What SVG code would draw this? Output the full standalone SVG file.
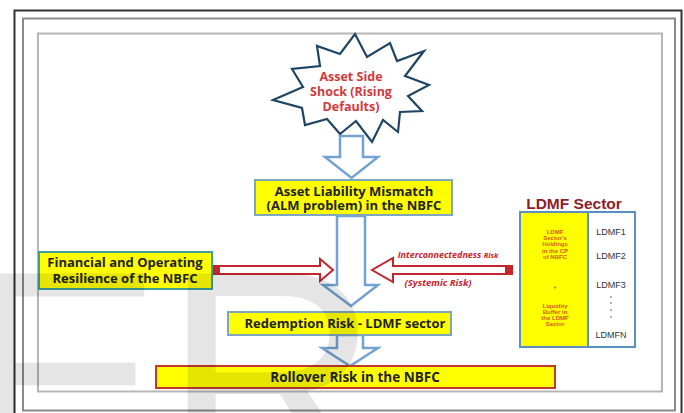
<svg xmlns="http://www.w3.org/2000/svg" width="684" height="413" viewBox="0 0 684 413">
<style>
.frame{fill:none}
.box{fill:#ffff00;stroke-width:2}
.lbl{font-family:"Open Sans","Liberation Sans",sans-serif;font-weight:bold;fill:#222;text-anchor:middle}
.blue{fill:#fff;stroke:#72a2d2;stroke-width:2.5;stroke-linejoin:miter}
.red{fill:#fff;stroke:#c4262e;stroke-width:2}
.redt{font-family:"Open Sans","Liberation Sans",sans-serif;font-weight:bold;font-style:italic;fill:#c4262e;text-anchor:middle}
.small{font-family:"Liberation Sans",sans-serif;font-weight:bold;fill:#d25a1e;text-anchor:middle;font-size:6px}
.ldmf{font-family:"Liberation Sans",sans-serif;fill:#333;text-anchor:middle;font-size:9px}
</style>
<rect width="684" height="413" fill="#fff"/>
<g id="frames">
<rect class="frame" x="14.5" y="10.5" width="667" height="410" stroke="#333" stroke-width="2"/>
<rect class="frame" x="23" y="18.5" width="652" height="392" stroke="#8a8a8a" stroke-width="2"/>
<rect class="frame" x="38" y="33.5" width="624" height="358" stroke="#b5b5b5" stroke-width="2"/>
</g>
<g id="connectors">
<path class="blue" d="M340,136 H363 V157 H378 L351.5,178 L325,157 H340 Z"/>
<path class="blue" d="M337,216 H365 V285 H378 L351,306 L323,285 H337 Z"/>
<path class="blue" d="M337,335 H363 V348 H378 L350,366 L322,348 H337 Z"/>
<path class="red" d="M213,266 H320 V259 L333,270 L320,281 V274 H213 Z"/>
<rect x="213" y="266" width="7" height="8" fill="#c4262e"/>
<path class="red" d="M512,266 H393 V258 L372,270 L393,282 V274 H512 Z"/>
<rect x="505" y="266" width="7" height="8" fill="#c4262e"/>
<text class="redt" x="448" y="258" font-size="9">Interconnectedness  <tspan font-size="7.5">Risk</tspan></text>
<text class="redt" x="438" y="286" font-size="9.5">(Systemic Risk)</text>
</g>
<g id="shock">
<polygon points="355,34 367,57 390,43 397,61 424,51 405,76 429,85 408,96 422,111 400,112 398,132 383,120 372,142 356,121 340,134 327,119 305,125 302,108 273,100 303,87 292,69 320,66 317,46 340,54" fill="#fff" stroke="#1f4566" stroke-width="2.2" stroke-linejoin="miter"/>
<text class="lbl" style="fill:#d03a3a" font-size="12.5" x="351" y="81">Asset Side</text>
<text class="lbl" style="fill:#d03a3a" font-size="12.5" x="351" y="96">Shock (Rising</text>
<text class="lbl" style="fill:#d03a3a" font-size="12.5" x="351" y="111">Defaults)</text>
</g>
<g id="alm">
<rect class="box" x="255" y="180" width="197" height="35" stroke="#7fa6bf"/>
<text class="lbl" font-size="13" x="354" y="196">Asset Liability Mismatch</text>
<text class="lbl" font-size="13" x="354" y="210">(ALM problem) in the  NBFC</text>
</g>
<g id="financial">
<rect class="box" x="39" y="252" width="173" height="37" stroke="#3f9f98"/>
<text class="lbl" font-size="13" x="125" y="267">Financial and Operating</text>
<text class="lbl" font-size="13" x="125" y="283">Resilience of the NBFC</text>
</g>
<g id="redemption">
<rect class="box" x="228" y="312" width="223" height="23" stroke="#7fa6bf"/>
<text class="lbl" font-size="13" x="345" y="328">Redemption Risk - LDMF sector</text>
</g>
<g id="rollover">
<rect class="box" x="156" y="366" width="399" height="22" stroke="#c0392b"/>
<text class="lbl" font-size="13.5" x="355" y="382">Rollover Risk in the NBFC</text>
</g>
<g id="ldmf">
<text x="574" y="209" font-family="'Liberation Sans',sans-serif" font-weight="bold" font-size="15.5" fill="#8b1f2a" text-anchor="middle">LDMF Sector</text>
<rect x="520" y="212" width="68" height="135" fill="#ffff00" stroke="#5b8fc4" stroke-width="2"/>
<rect x="588" y="212" width="47" height="135" fill="#fff" stroke="#5b8fc4" stroke-width="2"/>
<text class="small" x="555" y="234">LDMF</text>
<text class="small" x="555" y="240">Sector's</text>
<text class="small" x="555" y="246">Holdings</text>
<text class="small" x="555" y="253">in the CP</text>
<text class="small" x="555" y="259">of NBFC</text>
<text class="small" x="555" y="289" font-size="9">+</text>
<text class="small" x="555" y="308">Liquidity</text>
<text class="small" x="555" y="314">Buffer in</text>
<text class="small" x="555" y="320">the LDMF</text>
<text class="small" x="555" y="326">Sector</text>
<text class="ldmf" x="611" y="235">LDMF1</text>
<text class="ldmf" x="611" y="259">LDMF2</text>
<text class="ldmf" x="611" y="288">LDMF3</text>
<g fill="#555"><circle cx="611" cy="297" r="0.8"/><circle cx="611" cy="303" r="0.8"/><circle cx="611" cy="310" r="0.8"/><circle cx="611" cy="317" r="0.8"/></g>
<text class="ldmf" x="611" y="338">LDMFN</text>
</g>
<text x="-37" y="480" font-family="'Liberation Sans',sans-serif" font-size="300" fill="#000" fill-opacity="0.1">ER</text>
</svg>
